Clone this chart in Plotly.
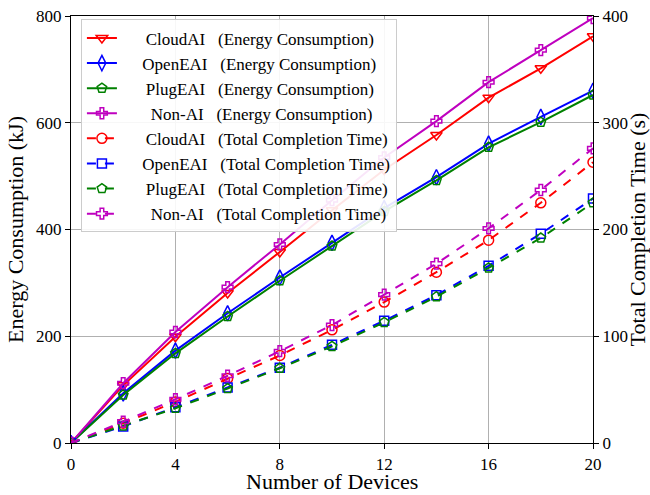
import plotly.graph_objects as go

devices = [0, 2, 4, 6, 8, 10, 12, 14, 16, 18, 20]

energy_cloud = [0, 108, 199, 281, 358, 436, 512, 577, 647, 702, 762]
energy_open = [0, 93, 173, 243, 310, 375, 440, 498, 561, 611, 660]
energy_plug = [0, 90, 168, 237, 304, 369, 434, 492, 554, 601, 652]
energy_non = [0, 112, 208, 292, 372, 455, 535, 603, 676, 736, 796]

time_cloud = [0, 18.5, 38.5, 60.5, 82, 106, 132, 160, 190, 225, 263]
time_open = [0, 15.5, 33.5, 52, 70.5, 92, 114.5, 138.5, 166, 196, 229]
time_plug = [0, 16, 32.5, 51, 70, 90.5, 113, 137, 164, 192, 225]
time_non = [0, 20, 41, 63, 86, 110.5, 139, 168, 201, 237, 276]

names = ["CloudAI", "OpenEAI", "PlugEAI", "Non-AI"]
colors = ["#ff0000", "#0000ff", "#008000", "#bf00bf"]
e_symbols = ["triangle-down-open", "diamond-tall-open", "pentagon-open", "cross-open"]
t_symbols = ["circle-open", "square-open", "pentagon-open", "cross-open"]
sizes = [10, 11, 10, 9]
EM, EN, TH = "\u2003", "\u2002", "\u2009"
pads = [EM + TH + TH, EM + TH, EM + TH + TH, EM + EN + TH]

x_title = "Number of Devices"

fig = go.Figure()
for n, c, s, sz, p, y in zip(names, colors, e_symbols, sizes, pads,
                             [energy_cloud, energy_open, energy_plug, energy_non]):
    fig.add_trace(go.Scatter(x=devices, y=y, mode="lines+markers",
                             name=f"{p}{n}{EN} (Energy Consumption)",
                             line=dict(color=c, width=2),
                             marker=dict(symbol=s, size=sz, color=c, line=dict(width=1.5, color=c)),
                             yaxis="y"))
for n, c, s, sz, p, y in zip(names, colors, t_symbols, [10, 9, 10, 9], pads,
                             [time_cloud, time_open, time_plug, time_non]):
    fig.add_trace(go.Scatter(x=devices, y=y, mode="lines+markers",
                             name=f"{p}{n}{EN} (Total Completion Time)",
                             line=dict(color=c, width=2, dash="dash"),
                             marker=dict(symbol=s, size=sz, color=c, line=dict(width=1.5, color=c)),
                             yaxis="y2"))

font = "Liberation Serif, Times New Roman, serif"
fig.update_layout(
    width=650, height=495,
    margin=dict(l=71, r=57, t=16, b=52, autoexpand=False),
    paper_bgcolor="white", plot_bgcolor="white",
    font=dict(family=font, size=17, color="black"),
    showlegend=True,
    legend=dict(x=0.019, y=0.992, xanchor="left", yanchor="top",
                bgcolor="rgba(255,255,255,0.9)", bordercolor="#cccccc", borderwidth=1,
                font=dict(family=font, size=17), tracegroupgap=0, itemwidth=30),
    xaxis=dict(range=[0, 20], tickvals=[0, 4, 8, 12, 16, 20], showgrid=True,
               gridcolor="#b0b0b0", gridwidth=1, showline=True, linecolor="black",
               linewidth=1.2, mirror=True, ticks="outside", ticklen=5, tickcolor="black",
               zeroline=False, automargin=False,
               tickfont=dict(size=17)),
    yaxis=dict(range=[0, 800], tickvals=[0, 200, 400, 600, 800], showgrid=True,
               gridcolor="#b0b0b0", gridwidth=1, showline=True, linecolor="black",
               linewidth=1.2, ticks="outside", ticklen=5, tickcolor="black",
               zeroline=False, automargin=False,
               title=dict(text="Energy Consumption (kJ)", font=dict(size=22), standoff=6),
               tickfont=dict(size=17)),
    yaxis2=dict(range=[0, 400], tickvals=[0, 100, 200, 300, 400], overlaying="y",
                side="right", showgrid=False, showline=True, linecolor="black",
                linewidth=1.2, ticks="outside", ticklen=5, tickcolor="black",
                zeroline=False, automargin=False,
                title=dict(text="Total Completion Time (s)", font=dict(size=22), standoff=6),
                tickfont=dict(size=17)),
    annotations=[dict(text=x_title, xref="paper", yref="paper", x=0.5, y=-0.0890,
                      xanchor="center", yanchor="middle", showarrow=False,
                      borderpad=0,
                      font=dict(family=font, size=22, color="black"))],
)

fig.write_html("out.html")
